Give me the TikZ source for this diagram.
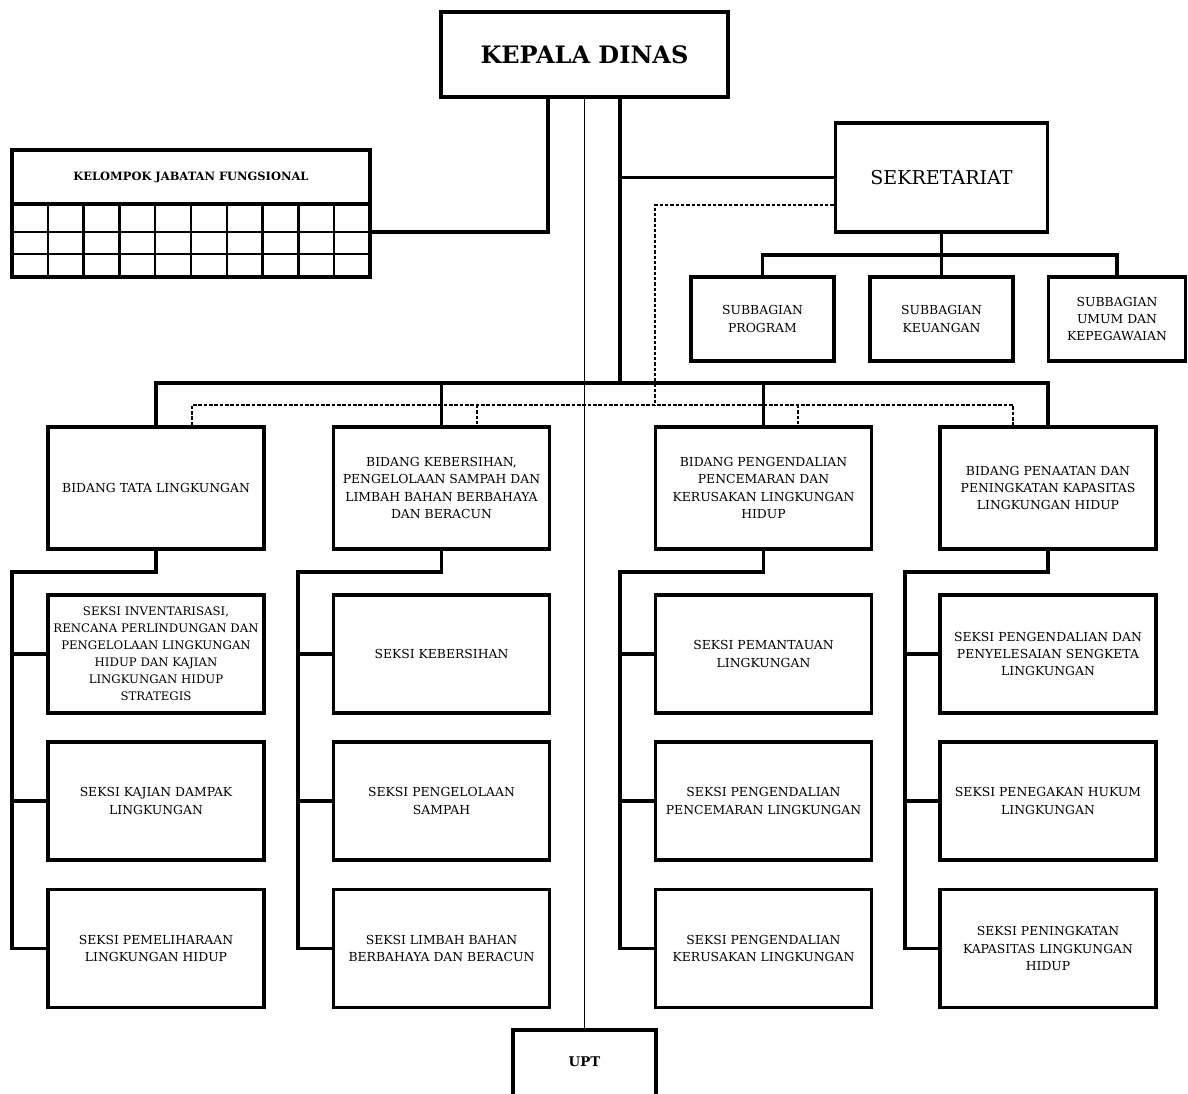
\documentclass[tikz,border=0pt]{standalone}
\usepackage{fontspec}
\setmainfont{DejaVu Serif}
\usetikzlibrary{calc}
\newcommand{\bodyfont}{\fontsize{9.3}{13}\selectfont}
\begin{document}
\begin{tikzpicture}[x=0.75pt,y=-0.75pt,
  boxstyle/.style={draw,line width=2.7pt,align=center,font=\bodyfont,inner sep=0.5pt},
  bidbox/.style={boxstyle,minimum width=162pt,minimum height=91.5pt},
  seksibox/.style={boxstyle,minimum width=162pt,minimum height=88.5pt},
  subbox/.style={boxstyle,minimum width=107pt,minimum height=63pt},
  conn/.style={line width=2.7pt},
  dashconn/.style={line width=1.1pt,dash pattern=on 2.6pt off 1.4pt},
  thinconn/.style={line width=1.1pt}
]
\useasboundingbox (0,0) rectangle (1188,1093);
\fill[white] (0,0) rectangle (1188,1093);

% Kepala Dinas
\node[draw,line width=2.7pt,minimum width=215pt,minimum height=63.75pt,font=\bfseries\fontsize{18}{20}\selectfont] (kd) at (584.5,54.5) {KEPALA DINAS};

% Kelompok Jabatan Fungsional
\node[draw,line width=2.7pt,minimum width=268.5pt,minimum height=95.25pt,inner sep=0pt] (kjf) at (191,213.5) {};
\node[font=\bfseries\fontsize{8.6}{10}\selectfont] (kjft) at (191,177.5) {KELOMPOK JABATAN FUNGSIONAL};
\draw[line width=2.7pt] (12,204) -- (370,204);
\draw[line width=1.9pt] (12,232) -- (370,232) (12,254) -- (370,254);
\foreach \i in {1,...,9} {\draw[line width=1.9pt] ({12+35.8*\i},204) -- ({12+35.8*\i},277);}

% Sekretariat
\node[draw,line width=2.7pt,minimum width=159pt,minimum height=81.75pt,font=\fontsize{14.3}{16}\selectfont] (sek) at (941.5,177.5) {SEKRETARIAT};

% Subbagian
\node[subbox] (sb1) at (762.5,319) {SUBBAGIAN\\PROGRAM};
\node[subbox] (sb2) at (941.5,319) {SUBBAGIAN\\KEUANGAN};
\node[subbox,minimum width=103pt] (sb3) at (1117,319) {SUBBAGIAN\\UMUM DAN\\KEPEGAWAIAN};

% Bidang
\node[bidbox] (b1) at (156,488) {BIDANG TATA LINGKUNGAN};
\node[bidbox] (b2) at (441.5,488) {BIDANG KEBERSIHAN,\\PENGELOLAAN SAMPAH DAN\\LIMBAH BAHAN BERBAHAYA\\DAN BERACUN};
\node[bidbox] (b3) at (763.5,488) {BIDANG PENGENDALIAN\\PENCEMARAN DAN\\KERUSAKAN LINGKUNGAN\\HIDUP};
\node[bidbox] (b4) at (1048,488) {BIDANG PENAATAN DAN\\PENINGKATAN KAPASITAS\\LINGKUNGAN HIDUP};

% Seksi column 1
\node[seksibox,font=\fontsize{8.8}{12.8}\selectfont] (s11) at (156,654) {SEKSI INVENTARISASI,\\RENCANA PERLINDUNGAN DAN\\PENGELOLAAN LINGKUNGAN\\HIDUP DAN KAJIAN\\LINGKUNGAN HIDUP\\STRATEGIS};
\node[seksibox] (s12) at (156,801) {SEKSI KAJIAN DAMPAK\\LINGKUNGAN};
\node[seksibox] (s13) at (156,948.5) {SEKSI PEMELIHARAAN\\LINGKUNGAN HIDUP};
% column 2
\node[seksibox] (s21) at (441.5,654) {SEKSI KEBERSIHAN};
\node[seksibox] (s22) at (441.5,801) {SEKSI PENGELOLAAN\\SAMPAH};
\node[seksibox] (s23) at (441.5,948.5) {SEKSI LIMBAH BAHAN\\BERBAHAYA DAN BERACUN};
% column 3
\node[seksibox] (s31) at (763.5,654) {SEKSI PEMANTAUAN\\LINGKUNGAN};
\node[seksibox] (s32) at (763.5,801) {SEKSI PENGENDALIAN\\PENCEMARAN LINGKUNGAN};
\node[seksibox] (s33) at (763.5,948.5) {SEKSI PENGENDALIAN\\KERUSAKAN LINGKUNGAN};
% column 4
\node[seksibox] (s41) at (1048,654) {SEKSI PENGENDALIAN DAN\\PENYELESAIAN SENGKETA\\LINGKUNGAN};
\node[seksibox] (s42) at (1048,801) {SEKSI PENEGAKAN HUKUM\\LINGKUNGAN};
\node[seksibox] (s43) at (1048,948.5) {SEKSI PENINGKATAN\\KAPASITAS LINGKUNGAN\\HIDUP};

% UPT
\node[font=\bfseries\fontsize{10}{12}\selectfont] (upt) at (584.5,1062) {UPT};
\coordinate (upttop) at (584.5,1030);
\draw[line width=2.7pt] (513,1100) -- (513,1030) -- (656,1030) -- (656,1100);

% ---- connectors ----
\coordinate (ckjf) at (548,232);
\draw[conn] (kd.south -| ckjf) -- (ckjf) -- (kjf.east |- ckjf);
\coordinate (bus) at (620,383);
\draw[conn] (kd.south -| bus) -- (bus);
\draw[conn] (sek.west -| bus) -- (sek.west);
\draw[thinconn] (kd.south) -- (upttop);

% sekretariat to subbagian
\coordinate (sbus) at (941.5,255);
\draw[conn] (sek.south) -- (sb2.north);
\draw[conn] (sb1.north) -- (sb1.north |- sbus) -- (sb3.north |- sbus) -- (sb3.north);

% dashed coordination line
\coordinate (ds) at (655,205);
\coordinate (dbus) at (0,405);
\coordinate (d1) at (192,405);
\coordinate (d2) at (477,405);
\coordinate (d3) at (798,405);
\coordinate (d4) at (1013,405);
\draw[dashconn] (sek.west |- ds) -- (ds) -- (ds |- dbus);
\draw[dashconn] (d1 |- b1.north) -- (d1) -- (d4) -- (d4 |- b4.north);
\draw[dashconn] (d2) -- (d2 |- b2.north);
\draw[dashconn] (d3) -- (d3 |- b3.north);

% solid bus to bidang
\draw[conn] (b1.north) -- (b1.north |- bus) -- (b4.north |- bus) -- (b4.north);
\draw[conn] (b2.north) -- (b2.north |- bus);
\draw[conn] (b3.north) -- (b3.north |- bus);

% bidang to seksi
\coordinate (sp1) at (12,572);
\coordinate (sp2) at (298,572);
\coordinate (sp3) at (620,572);
\coordinate (sp4) at (905,572);
\foreach \c/\k in {1/sp1,2/sp2,3/sp3,4/sp4} {
  \draw[conn] (b\c.south) |- (\k) |- (s\c3.west);
  \draw[conn] (\k |- s\c1.west) -- (s\c1.west);
  \draw[conn] (\k |- s\c2.west) -- (s\c2.west);
}
\end{tikzpicture}
\end{document}
